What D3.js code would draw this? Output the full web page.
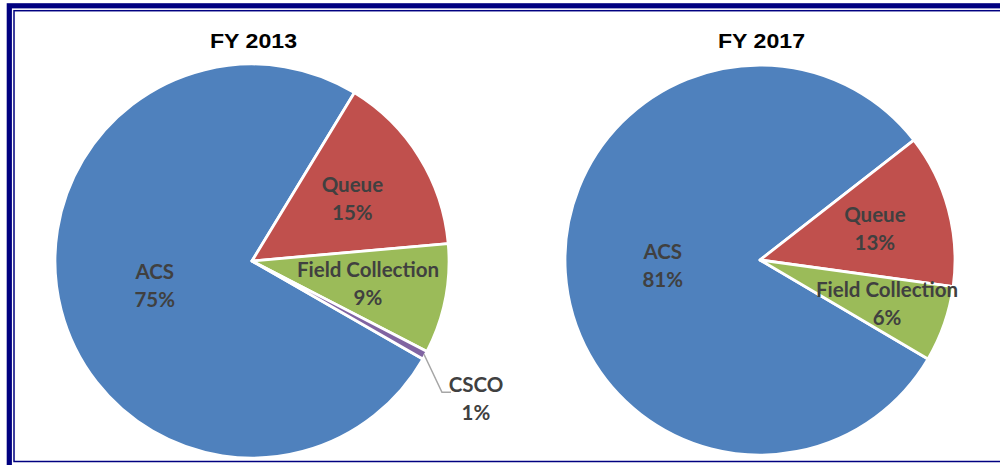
<!DOCTYPE html>
<html>
<head>
<meta charset="utf-8">
<script src="https://cdn.jsdelivr.net/npm/d3@7"></script>
<style>
  html, body { margin: 0; padding: 0; background: #fff; }
  svg { display: block; }
</style>
</head>
<body>
<div id="chart"></div>
<script>
// values (percent of total)
var categories = ['ACS', 'Queue', 'Field Collection', 'CSCO'];
var colors = ['#4f81bd', '#c0504d', '#9bbb59', '#8064a2'];
var fy2013 = [75.4, 14.9, 9.0, 0.7];
var fy2017 = [81.0, 12.7, 6.3, 0];
var titles = ['FY 2013', 'FY 2017'];

var width = 1000, height = 465;

var svg = d3.select('#chart').append('svg')
  .attr('width', width)
  .attr('height', height);

// double navy frame
svg.append('rect')
  .attr('x', 9.3).attr('y', 5.8)
  .attr('width', 1000).attr('height', 470)
  .attr('fill', 'none')
  .attr('stroke', '#000080')
  .attr('stroke-width', 5.2);
svg.append('rect')
  .attr('x', 14).attr('y', 10.7)
  .attr('width', 1000).attr('height', 450.8)
  .attr('fill', 'none')
  .attr('stroke', '#000080')
  .attr('stroke-width', 1.5);

// each chart: centre, radius, where the Queue slice starts, label distance per slice
var layouts = [
  { cx: 252, cy: 261, r: 197, queueStart: 31.3, labelR: [0.51, 0.6, 0.6, 0] },
  { cx: 760, cy: 260, r: 195, queueStart: 52.1, labelR: [0.5, 0.61, 0.69, 0] }
];

var deg = Math.PI / 180;

function drawPie(values, title, lay) {
  var total = d3.sum(values);
  var rows = categories.map(function(c, i) {
    return { name: c, value: values[i], color: colors[i] };
  });
  // rotate so the Queue slice begins where it does in the picture
  var start = lay.queueStart * deg - (values[0] / total) * 2 * Math.PI;
  var pie = d3.pie()
    .sort(null)
    .value(function(d) { return d.value; })
    .startAngle(start)
    .endAngle(start + 2 * Math.PI);

  var arcs = pie(rows);
  var arc = d3.arc().innerRadius(0).outerRadius(lay.r);

  var g = svg.append('g')
    .attr('transform', 'translate(' + lay.cx + ',' + lay.cy + ')');

  g.selectAll('path.slice')
    .data(arcs.filter(function(d) { return d.data.value > 0; }))
    .enter().append('path')
    .attr('class', 'slice')
    .attr('d', arc)
    .attr('fill', function(d) { return d.data.color; })
    .attr('stroke', '#fff')
    .attr('stroke-width', 2.8)
    .attr('stroke-linejoin', 'round');

  svg.append('text')
    .attr('x', lay.cx + 1.5)
    .attr('y', 48)
    .attr('text-anchor', 'middle')
    .attr('font-family', 'Liberation Sans, Arial, sans-serif')
    .attr('font-weight', 'bold')
    .attr('font-size', 19.5)
    .attr('textLength', 87)
    .attr('lengthAdjust', 'spacingAndGlyphs')
    .attr('fill', '#000')
    .text(title);

  arcs.forEach(function(d, i) {
    if (d.data.value <= 0) return;
    var mid = (d.startAngle + d.endAngle) / 2;
    var lx, ly, anchor = 'middle';
    if (lay.labelR[i] > 0) {
      var lr = lay.r * lay.labelR[i];
      lx = Math.sin(mid) * lr;
      ly = -Math.cos(mid) * lr;
    } else {
      // small slice: label outside with leader line
      var ex = Math.sin(mid) * lay.r, ey = -Math.cos(mid) * lay.r;
      var bx = ex + 17, by = ey + 37;
      g.append('polyline')
        .attr('points', [[ex - 1, ey - 1], [bx, by], [bx + 9, by]].join(' '))
        .attr('fill', 'none')
        .attr('stroke', '#a6a6a6')
        .attr('stroke-width', 1.5);
      lx = bx + 34;
      ly = by + 7;
    }
    var pct = Math.round(d.data.value / total * 100);
    if (pct < 1) pct = 1;
    var t = g.append('text')
      .attr('text-anchor', anchor)
      .attr('font-family', 'Lato, Open Sans, sans-serif')
      .attr('font-weight', 'bold')
      .attr('font-size', 20.5)
      .attr('fill', '#404040');
    t.append('tspan').attr('x', lx).attr('y', ly - 7).text(d.data.name);
    t.append('tspan').attr('x', lx).attr('y', ly + 21).text(pct + '%');
  });
}

drawPie(fy2013, titles[0], layouts[0]);
drawPie(fy2017, titles[1], layouts[1]);
</script>
</body>
</html>
